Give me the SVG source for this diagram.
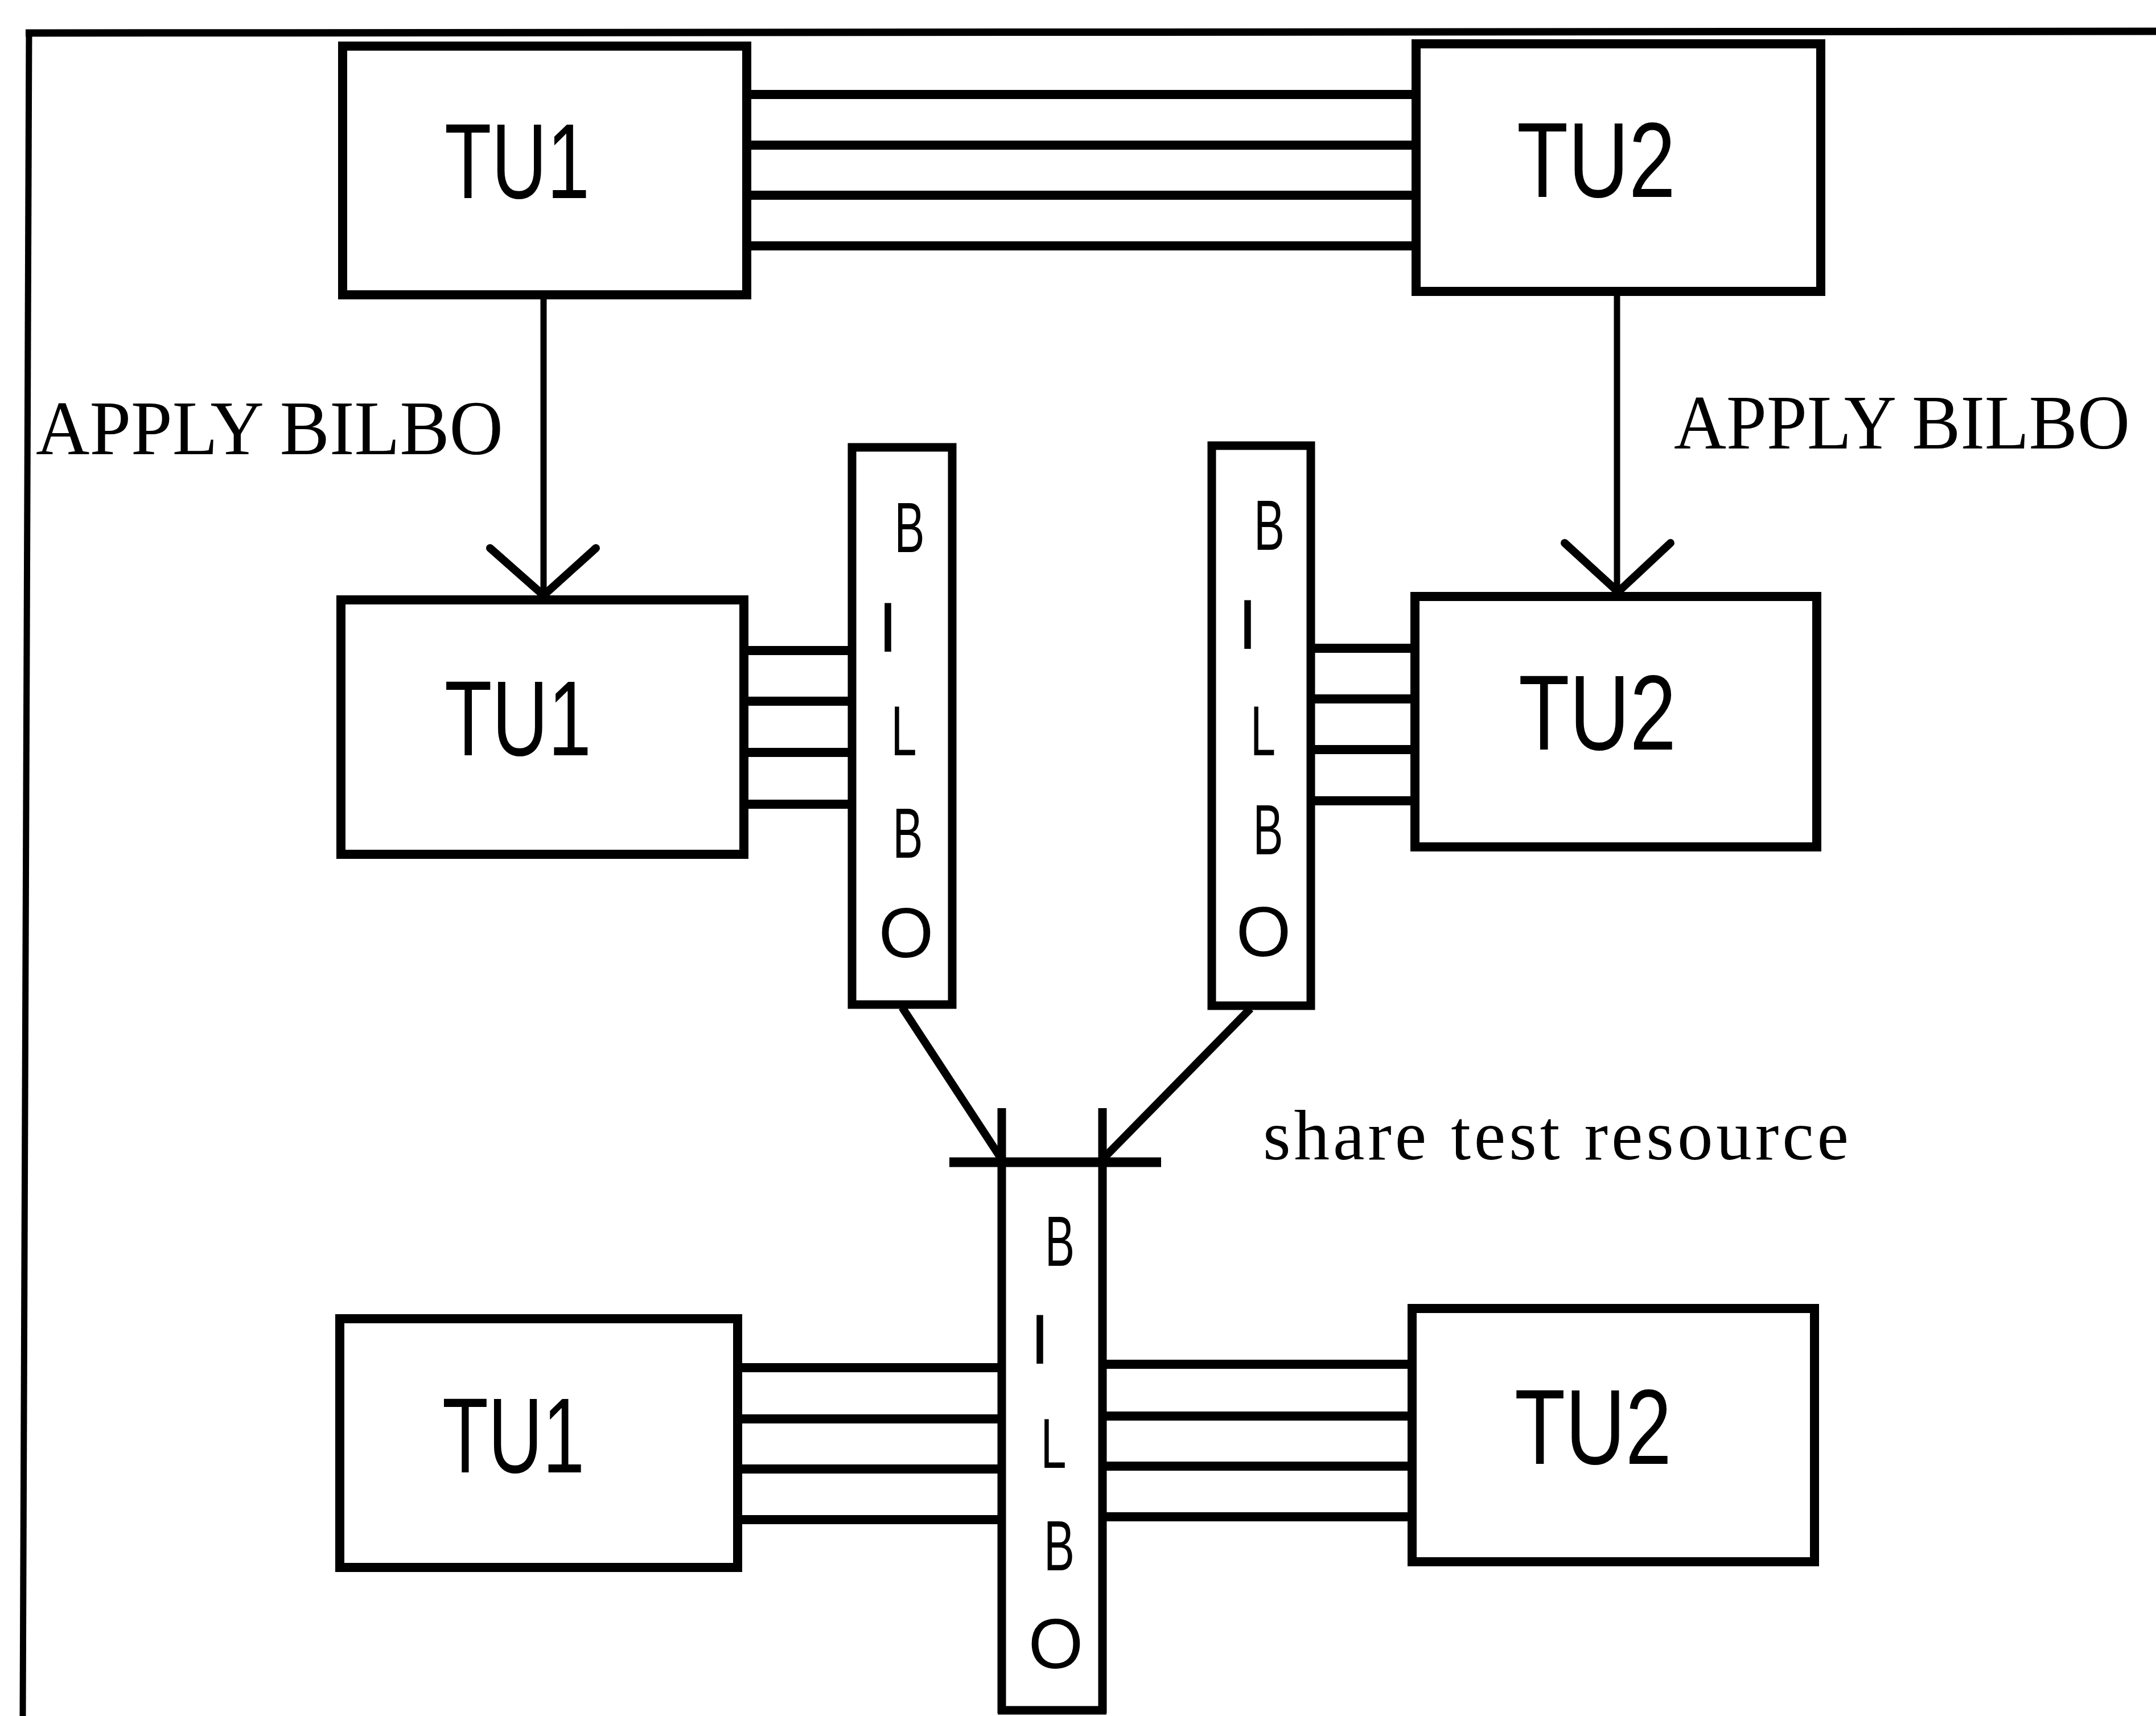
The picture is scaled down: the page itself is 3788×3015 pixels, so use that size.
<svg xmlns="http://www.w3.org/2000/svg" width="3788" height="3015" viewBox="0 0 3788 3015">
<style>
.box{fill:#fff;stroke:#000;stroke-width:16}
.bilbo{fill:#fff;stroke:#000;stroke-width:15}
.bus{stroke:#000;stroke-width:16;fill:none}
.wire{stroke:#000;stroke-width:11;fill:none}
.head{stroke:#000;stroke-width:14;fill:none;stroke-linecap:round;stroke-linejoin:round}
.diag{stroke:#000;stroke-width:14;fill:none}
.frame{stroke:#000;fill:none}
.tu{font-family:"Liberation Sans",Arial,sans-serif;font-size:187px;fill:#000}
.bl{font-family:"Liberation Sans",Arial,sans-serif;font-size:124px;fill:#000;text-anchor:middle}
.lab{font-family:"Liberation Serif","Times New Roman",serif;font-size:136px;fill:#000}
.share{font-family:"Liberation Serif","Times New Roman",serif;font-size:125px;fill:#000}
</style>
<rect x="0" y="0" width="3788" height="3015" fill="#fff"/>
<g id="frame">
<line class="frame" x1="45" y1="58" x2="3788" y2="55" stroke-width="13"/>
<line class="frame" x1="51" y1="52" x2="40" y2="3015" stroke-width="11"/>
</g>
<g id="connectors">
<line class="bus" x1="1318" y1="166" x2="2482" y2="166"/>
<line class="bus" x1="1318" y1="255" x2="2482" y2="255"/>
<line class="bus" x1="1318" y1="343" x2="2482" y2="343"/>
<line class="bus" x1="1318" y1="432" x2="2482" y2="432"/>
<line class="wire" x1="955" y1="526" x2="955" y2="1046"/>
<polyline class="head" points="861,963 955,1046 1047,963"/>
<line class="wire" x1="2841" y1="520" x2="2841" y2="1040"/>
<polyline class="head" points="2749,954 2843,1040 2935,954"/>
<line class="bus" x1="1313" y1="1143" x2="1499" y2="1143"/>
<line class="bus" x1="1313" y1="1232" x2="1499" y2="1232"/>
<line class="bus" x1="1313" y1="1322" x2="1499" y2="1322"/>
<line class="bus" x1="1313" y1="1413" x2="1499" y2="1413"/>
<line class="bus" x1="2301" y1="1139" x2="2480" y2="1139"/>
<line class="bus" x1="2301" y1="1228" x2="2480" y2="1228"/>
<line class="bus" x1="2301" y1="1317" x2="2480" y2="1317"/>
<line class="bus" x1="2301" y1="1407" x2="2480" y2="1407"/>
<line class="diag" x1="1585" y1="1770" x2="1758" y2="2034"/>
<line class="diag" x1="2197" y1="1772" x2="1942" y2="2032"/>
<line class="bus" x1="1302" y1="2403" x2="1762" y2="2403"/>
<line class="bus" x1="1302" y1="2493" x2="1762" y2="2493"/>
<line class="bus" x1="1302" y1="2581" x2="1762" y2="2581"/>
<line class="bus" x1="1302" y1="2670" x2="1762" y2="2670"/>
<line class="bus" x1="1935" y1="2397" x2="2475" y2="2397"/>
<line class="bus" x1="1935" y1="2488" x2="2475" y2="2488"/>
<line class="bus" x1="1935" y1="2576" x2="2475" y2="2576"/>
<line class="bus" x1="1935" y1="2665" x2="2475" y2="2665"/>
</g>
<g id="tu1-top">
<rect class="box" x="602" y="81" width="710" height="437"/>
<text class="tu" x="781" y="348" textLength="255" lengthAdjust="spacingAndGlyphs">TU1</text>
</g>
<g id="tu2-top">
<rect class="box" x="2488" y="77" width="711" height="435"/>
<text class="tu" x="2665" y="346" textLength="279" lengthAdjust="spacingAndGlyphs">TU2</text>
</g>
<g id="label-apply-left">
<text class="lab" x="63" y="798" textLength="821" lengthAdjust="spacingAndGlyphs">APPLY BILBO</text>
</g>
<g id="label-apply-right">
<text class="lab" x="2941" y="788" textLength="801" lengthAdjust="spacingAndGlyphs">APPLY BILBO</text>
</g>
<g id="tu1-mid">
<rect class="box" x="599" y="1054" width="708" height="447"/>
<text class="tu" x="781" y="1327" textLength="258" lengthAdjust="spacingAndGlyphs">TU1</text>
</g>
<g id="tu2-mid">
<rect class="box" x="2486" y="1048" width="706" height="440"/>
<text class="tu" x="2668" y="1317" textLength="277" lengthAdjust="spacingAndGlyphs">TU2</text>
</g>
<g id="bilbo-left">
<rect class="bilbo" x="1497" y="786" width="176" height="979"/>
<text class="bl" x="1598" y="970" textLength="53" lengthAdjust="spacingAndGlyphs">B</text>
<text class="bl" x="1560" y="1145">I</text>
<text class="bl" x="1588" y="1327" textLength="45" lengthAdjust="spacingAndGlyphs">L</text>
<text class="bl" x="1595" y="1507" textLength="53" lengthAdjust="spacingAndGlyphs">B</text>
<text class="bl" x="1592" y="1682">O</text>
</g>
<g id="bilbo-right">
<rect class="bilbo" x="2129" y="783" width="174" height="984"/>
<text class="bl" x="2230" y="966" textLength="54" lengthAdjust="spacingAndGlyphs">B</text>
<text class="bl" x="2192" y="1140">I</text>
<text class="bl" x="2219" y="1327" textLength="44" lengthAdjust="spacingAndGlyphs">L</text>
<text class="bl" x="2228" y="1501" textLength="53" lengthAdjust="spacingAndGlyphs">B</text>
<text class="bl" x="2220" y="1680">O</text>
</g>
<g id="bilbo-shared">
<line class="bilbo" x1="1760" y1="1947" x2="1760" y2="3010"/>
<line class="bilbo" x1="1937" y1="1947" x2="1937" y2="3010"/>
<line class="bilbo" x1="1753" y1="3005" x2="1944" y2="3005"/>
<line x1="1668" y1="2042" x2="2040" y2="2042" stroke="#000" stroke-width="17"/>
<text class="bl" x="1862" y="2224" textLength="52" lengthAdjust="spacingAndGlyphs">B</text>
<text class="bl" x="1827" y="2396">I</text>
<text class="bl" x="1851" y="2579" textLength="45" lengthAdjust="spacingAndGlyphs">L</text>
<text class="bl" x="1861" y="2759" textLength="54" lengthAdjust="spacingAndGlyphs">B</text>
<text class="bl" x="1855" y="2931">O</text>
</g>
<g id="label-share">
<text class="share" x="2219" y="2037" textLength="1029" lengthAdjust="spacing">share test resource</text>
</g>
<g id="tu1-bottom">
<rect class="box" x="597" y="2317" width="699" height="437"/>
<text class="tu" x="777" y="2587" textLength="250" lengthAdjust="spacingAndGlyphs">TU1</text>
</g>
<g id="tu2-bottom">
<rect class="box" x="2481" y="2299" width="707" height="445"/>
<text class="tu" x="2661" y="2572" textLength="276" lengthAdjust="spacingAndGlyphs">TU2</text>
</g>
</svg>
